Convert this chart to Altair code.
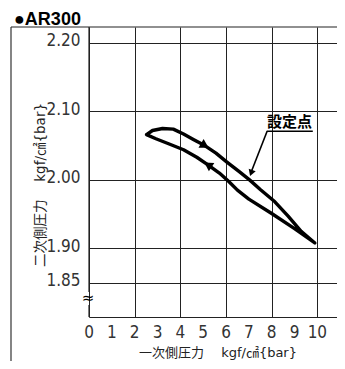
import altair as alt
import pandas as pd

# ---- data ----
# upper branch (increasing supply pressure), left tip -> right tip
up_x = [2.52, 2.78, 3.22, 3.69, 4.14, 4.57, 5.07, 5.56, 6.04, 6.58, 7.03, 7.50, 8.14, 8.72, 9.29, 9.89]
up_y = [2.066, 2.072, 2.075, 2.074, 2.067, 2.059, 2.050, 2.039, 2.026, 2.012, 2.000, 1.986, 1.968, 1.947, 1.925, 1.908]
# lower branch (decreasing supply pressure), right tip -> left tip
lo_x = [9.89, 9.00, 8.00, 7.00, 6.50, 6.11, 5.71, 5.21, 4.72, 4.14, 3.54, 2.93, 2.52]
lo_y = [1.908, 1.929, 1.951, 1.972, 1.985, 1.998, 2.010, 2.022, 2.033, 2.044, 2.052, 2.060, 2.066]

x_ticks = [0, 1, 2, 3, 4, 5, 6, 7, 8, 9, 10]
y_ticks = [1.85, 1.90, 2.00, 2.10, 2.20]

# direction arrows on the loop: (x, y, shape, angle)
arrow_x = [5.07, 5.21]
arrow_y = [2.050, 2.022]
arrow_shape = ["triangle-right", "triangle-left"]
arrow_angle = [31, 33]

# "設定点" annotation
label_text = "設定点"
label_x, label_y = 8.78, 2.077
underline_x = [7.78, 9.80]
underline_y = 2.071
leader_x = [7.80, 7.12]
leader_y = [2.071, 2.013]
leader_tip = (7.10, 2.010)

title = "●AR300"
x_title = "一次側圧力　 kgf/㎠{bar}"
y_title = "二次側圧力　 kgf/㎠{bar}"

W, H = 248, 290
PAD_TOP = 19
X_DOM = [0, 10.86]
Y_DOM = [1.80, 2.223]

xs = alt.Scale(domain=X_DOM, nice=False, zero=False)
ys = alt.Scale(domain=Y_DOM, nice=False, zero=False)

loop = pd.DataFrame({
    "x": up_x + lo_x[1:],
    "y": up_y + lo_y[1:],
    "o": list(range(len(up_x) + len(lo_x) - 1)),
})

LABEL_FONT = "Liberation Sans Narrow, DejaVu Sans Condensed, Liberation Sans"
CJK = "Noto Sans CJK JP"
TITLE_FONT = "DejaVu Sans, Noto Sans CJK JP"

base = alt.Chart(loop).mark_line(
    color="black", strokeWidth=3.4, strokeJoin="round", strokeCap="round"
).encode(
    x=alt.X("x:Q", scale=xs, axis=alt.Axis(
        values=x_ticks, grid=True, ticks=False, domain=True, title=None, labels=False,
        gridColor="#222", gridWidth=1, domainColor="#222", domainWidth=1.2,
    )),
    y=alt.Y("y:Q", scale=ys, axis=alt.Axis(
        values=y_ticks, grid=True, ticks=False, domain=False, title=None,
        format=".2f", labelFont=LABEL_FONT, labelFontSize=17, labelColor="#333",
        labelPadding=9, labelOffset=-2, labelOverlap=False,
        gridColor="#222", gridWidth=1,
    )),
    order="o:Q",
)

# x tick labels, placed by the x scale
xlab = alt.Chart(pd.DataFrame({"x": x_ticks, "t": [str(v) for v in x_ticks]})).mark_text(
    font=LABEL_FONT, fontSize=17, color="#333", align="center", baseline="alphabetic"
).encode(x=alt.X("x:Q", scale=xs), y=alt.value(H + 21), text="t:N")

one = pd.DataFrame({"a": [0]})

arrows = []
for ax_, ay_, sh, an in zip(arrow_x, arrow_y, arrow_shape, arrow_angle):
    arrows.append(
        alt.Chart(pd.DataFrame({"x": [ax_], "y": [ay_]})).mark_point(
            shape=sh, angle=an, filled=True, color="black", size=100, opacity=1
        ).encode(x=alt.X("x:Q", scale=xs), y=alt.Y("y:Q", scale=ys))
    )

leader = alt.Chart(pd.DataFrame({"x": leader_x, "y": leader_y})).mark_line(
    color="black", strokeWidth=1.6
).encode(x=alt.X("x:Q", scale=xs), y=alt.Y("y:Q", scale=ys))

leader_head = alt.Chart(pd.DataFrame({"x": [leader_tip[0]], "y": [leader_tip[1]]})).mark_point(
    shape="triangle-down", angle=19, filled=True, color="black", size=55, opacity=1
).encode(x=alt.X("x:Q", scale=xs), y=alt.Y("y:Q", scale=ys))

underline = alt.Chart(pd.DataFrame({"x": [underline_x[0]], "x2": [underline_x[1]], "y": [underline_y]})).mark_rule(
    color="black", strokeWidth=1.4
).encode(x=alt.X("x:Q", scale=xs), x2="x2:Q", y=alt.Y("y:Q", scale=ys))

label = alt.Chart(pd.DataFrame({"x": [label_x], "y": [label_y], "t": [label_text]})).mark_text(
    font=CJK, fontSize=15, fontWeight="bold", color="black", baseline="alphabetic", align="center"
).encode(x=alt.X("x:Q", scale=xs), y=alt.Y("y:Q", scale=ys), text="t:N")

# frame lines and broken y axis
frame_top = alt.Chart(one).mark_rule(color="#222", strokeWidth=1.2).encode(
    x=alt.value(-78), x2=alt.value(W), y=alt.value(0))
frame_left = alt.Chart(one).mark_rule(color="#333", strokeWidth=1.2).encode(
    x=alt.value(-78), y=alt.value(0), y2=alt.value(336))
yaxis_a = alt.Chart(one).mark_rule(color="#222", strokeWidth=1.2).encode(
    x=alt.value(0), y=alt.value(0), y2=alt.value(265))
yaxis_b = alt.Chart(one).mark_rule(color="#222", strokeWidth=1.2).encode(
    x=alt.value(0), y=alt.value(278), y2=alt.value(H))
brk = alt.Chart(pd.DataFrame({"t": ["≈"]})).mark_text(
    font="DejaVu Sans", fontSize=15, color="black", align="center", baseline="middle"
).encode(x=alt.value(-1), y=alt.value(271), text="t:N")

title_mark = alt.Chart(pd.DataFrame({"t": [title]})).mark_text(
    font="Liberation Sans, DejaVu Sans", fontSize=18, fontWeight="bold", color="black",
    align="left", baseline="alphabetic"
).encode(x=alt.value(-75), y=alt.value(-2), text="t:N")

xt = alt.Chart(pd.DataFrame({"t": [x_title]})).mark_text(
    font=TITLE_FONT, fontSize=13, color="#222", align="center", baseline="alphabetic"
).encode(x=alt.value(129), y=alt.value(330), text="t:N")

yt = alt.Chart(pd.DataFrame({"t": [y_title]})).mark_text(
    font=TITLE_FONT, fontSize=13.5, color="#222", align="center", baseline="middle", angle=270
).encode(x=alt.value(-48), y=alt.value(158), text="t:N")

chart = alt.layer(
    base, xlab, *arrows, leader, leader_head, underline, label,
    frame_top, frame_left, yaxis_a, yaxis_b, brk, title_mark, xt, yt
).properties(
    width=W, height=H,
    autosize=alt.AutoSizeParams(type="none"),
    padding={"left": 81, "top": PAD_TOP, "right": 0, "bottom": 44},
    background="white",
).configure_view(stroke=None)

chart.save("out.html", embed_options={"renderer": "svg", "actions": False})
